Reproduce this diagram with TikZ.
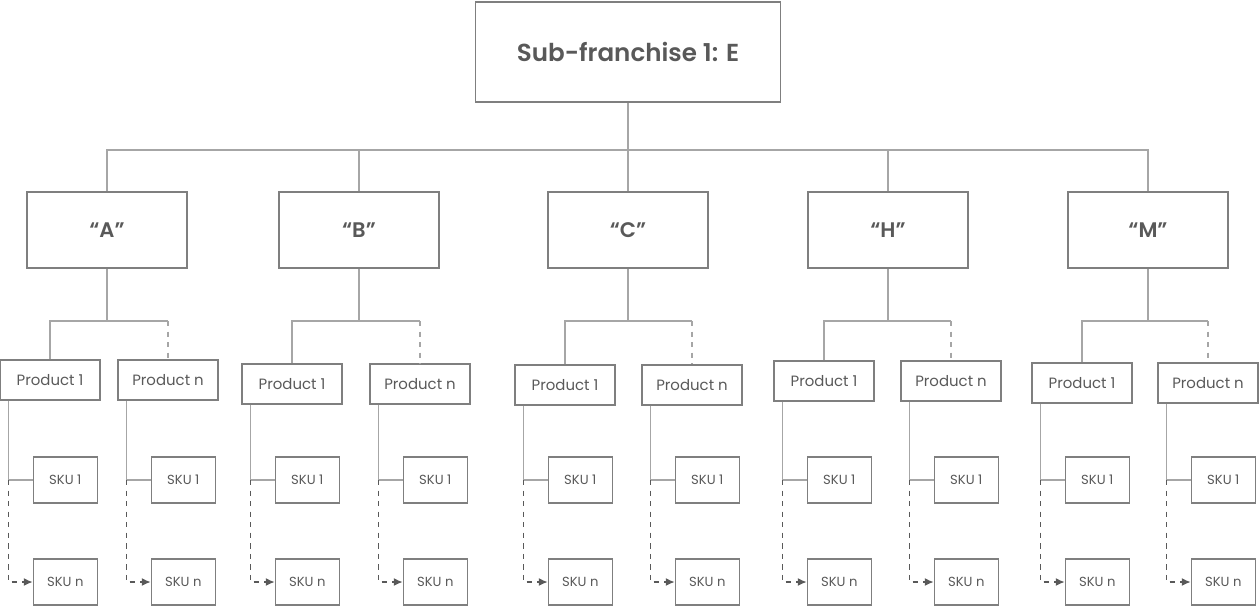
\documentclass[tikz,border=0pt]{standalone}
\usepackage{fontspec}
\setmainfont{Poppins}[BoldFont={* SemiBold}]
\usetikzlibrary{arrows.meta,calc}
\definecolor{boxgrey}{HTML}{7F7F7F}
\definecolor{linegrey}{HTML}{A6A6A6}
\definecolor{txtgrey}{HTML}{595959}
\tikzset{
  topbox/.style  = {draw=boxgrey, line width=0.9pt, minimum width=6.1cm, minimum height=2.0cm,
                    text=txtgrey, font=\fontsize{14}{16}\selectfont\bfseries},
  catbox/.style  = {draw=boxgrey, line width=0.9pt, minimum width=3.2cm, minimum height=1.52cm,
                    text=txtgrey, font=\fontsize{12}{14}\selectfont\bfseries},
  prodbox/.style = {draw=boxgrey, line width=0.8pt, minimum width=2.0cm, minimum height=0.8cm,
                    inner sep=1pt, text=txtgrey, font=\fontsize{8.5}{10}\selectfont},
  skubox/.style  = {draw=boxgrey, line width=0.8pt, minimum width=1.28cm, minimum height=0.92cm,
                    inner sep=1pt, text=txtgrey, font=\fontsize{7.5}{9}\selectfont},
  conn/.style    = {draw=linegrey, line width=0.7pt},
  flow/.style    = {draw=txtgrey, line width=0.7pt, dashed, -{Latex[length=5pt,width=4.5pt]}},
}
\begin{document}
\begin{tikzpicture}[x=0.02cm, y=-0.02cm]
  \useasboundingbox (0,0) rectangle (1259,610);
  \node[topbox] (top) at (628,52) {Sub-franchise 1: E};
  \coordinate (bus) at (628,150);
  \coordinate (r1) at (0,480);
  \coordinate (rn) at (0,582);
  \draw[conn] (top) -- (bus);
  % one branch per category
  \foreach \g/\cx/\ax/\bx/\py in {A/107/50/168/380, B/359/292/420/384, C/628/565/692/385,
                                 H/888/824/951/381, M/1148/1082/1208/383} {
    \node[catbox] (c\g) at (\cx,230) {``\g''};
    \draw[conn] (bus) -| (c\g.north);
    \coordinate (j\g) at (\cx,321);
    \node[prodbox] (p1\g) at (\ax,\py) {Product 1};
    \node[prodbox] (pn\g) at (\bx,\py) {Product n};
    \draw[conn] (c\g) -- (j\g) -| (p1\g.north);
    \draw[conn] (j\g) -- (j\g -| pn\g.north);
    \draw[conn, dashed] (j\g -| pn\g.north) -- (pn\g.north);
    % skus below each product
    \foreach \p in {p1\g, pn\g} {
      \node[skubox] (a\p) at ($(\p.south west |- r1)+(66,0)$) {SKU 1};
      \node[skubox] (b\p) at ($(\p.south west |- rn)+(66,0)$) {SKU n};
      \coordinate (t\p) at ($(\p.south west)+(9,0)$);
      \draw[conn] (t\p) |- (a\p.west);
      \draw[flow] (t\p |- a\p.west) |- (b\p.west);
    }
  }
\end{tikzpicture}
\end{document}
